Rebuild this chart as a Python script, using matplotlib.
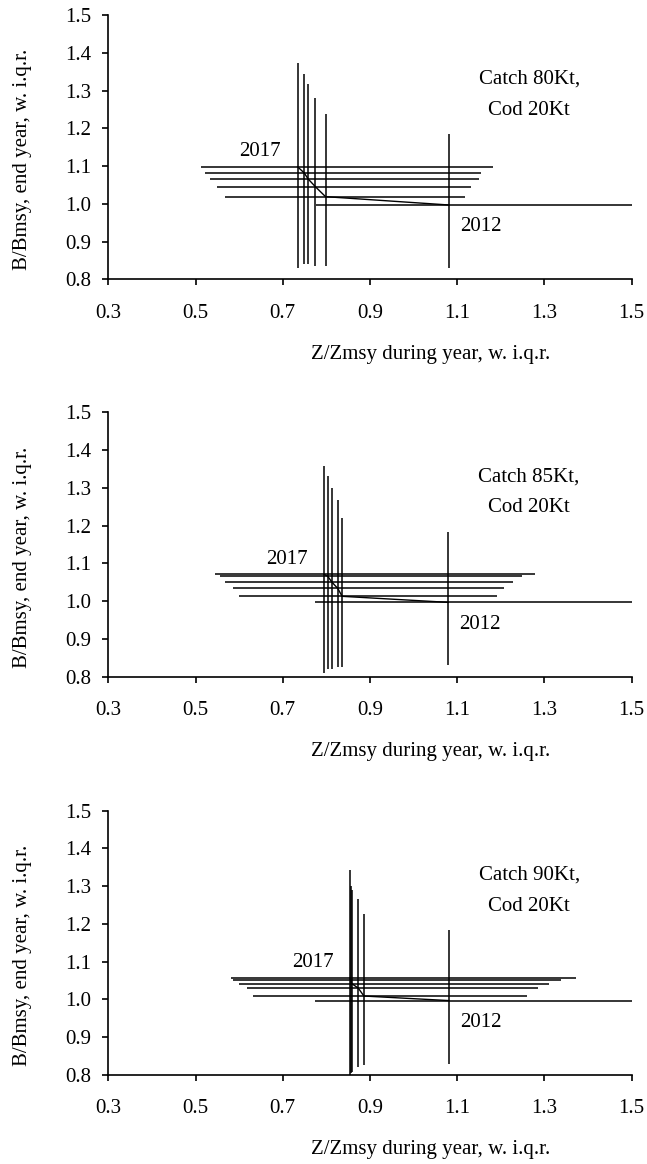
import numpy as np
import matplotlib
matplotlib.use("Agg")
import matplotlib.pyplot as plt
from matplotlib.ticker import FormatStrFormatter

plt.rcParams['font.family'] = ['Liberation Serif', 'DejaVu Serif']
plt.rcParams['font.size'] = 15

years = [2012, 2013, 2014, 2015, 2016, 2017]
catch_labels = ['Catch 80Kt,', 'Catch 85Kt,', 'Catch 90Kt,']
cod_label = 'Cod 20Kt'

# median Z/Zmsy and B/Bmsy per year, with inter-quartile ranges
# catch 80Kt
z_80 = [1.080, 0.798, 0.775, 0.758, 0.749, 0.734]
z_80_lo = [0.776, 0.568, 0.550, 0.532, 0.522, 0.513]
z_80_hi = [1.55, 1.118, 1.131, 1.150, 1.154, 1.181]
b_80 = [0.997, 1.019, 1.045, 1.066, 1.082, 1.098]
b_80_lo = [0.829, 0.835, 0.835, 0.841, 0.841, 0.829]
b_80_hi = [1.184, 1.237, 1.279, 1.317, 1.343, 1.374]

# catch 85Kt
z_85 = [1.079, 0.836, 0.826, 0.813, 0.803, 0.795]
z_85_lo = [0.774, 0.600, 0.587, 0.568, 0.555, 0.545]
z_85_hi = [1.55, 1.190, 1.208, 1.227, 1.248, 1.278]
b_85 = [0.997, 1.013, 1.034, 1.050, 1.066, 1.071]
b_85_lo = [0.831, 0.825, 0.825, 0.820, 0.820, 0.811]
b_85_hi = [1.184, 1.221, 1.269, 1.300, 1.332, 1.359]

# catch 90Kt
z_90 = [1.080, 0.886, 0.873, 0.858, 0.856, 0.854]
z_90_lo = [0.774, 0.632, 0.617, 0.600, 0.587, 0.581]
z_90_hi = [1.55, 1.259, 1.286, 1.310, 1.338, 1.373]
b_90 = [0.997, 1.009, 1.030, 1.042, 1.051, 1.057]
b_90_lo = [0.829, 0.826, 0.820, 0.808, 0.805, 0.801]
b_90_hi = [1.185, 1.227, 1.265, 1.291, 1.300, 1.344]

x_ticks = [0.3, 0.5, 0.7, 0.9, 1.1, 1.3, 1.5]
y_ticks = [0.8, 0.9, 1.0, 1.1, 1.2, 1.3, 1.4, 1.5]

panels = [
    (z_80, z_80_lo, z_80_hi, b_80, b_80_lo, b_80_hi),
    (z_85, z_85_lo, z_85_hi, b_85, b_85_lo, b_85_hi),
    (z_90, z_90_lo, z_90_hi, b_90, b_90_lo, b_90_hi),
]
bottoms = [0.7600, 0.4186, 0.0765]

fig = plt.figure(figsize=(6.47, 11.64), dpi=100)

for i, (z, zlo, zhi, b, blo, bhi) in enumerate(panels):
    ax = fig.add_axes([0.1674, bottoms[i], 0.809, 0.2271])
    z = np.array(z); b = np.array(b)
    xerr = [z - np.array(zlo), np.array(zhi) - z]
    yerr = [b - np.array(blo), np.array(bhi) - b]
    ax.errorbar(z, b, xerr=xerr, yerr=yerr, color='k', ecolor='k',
                lw=1.0, elinewidth=1.1, capsize=0)

    ax.set_xlim(0.3, 1.5)
    ax.set_ylim(0.8, 1.5)
    ax.set_xticks(x_ticks)
    ax.set_yticks(y_ticks)
    ax.xaxis.set_major_formatter(FormatStrFormatter('%.1f'))
    ax.yaxis.set_major_formatter(FormatStrFormatter('%.1f'))
    ax.spines['top'].set_visible(False)
    ax.spines['right'].set_visible(False)
    for s in ['left', 'bottom']:
        ax.spines[s].set_linewidth(1.2)
    ax.tick_params(axis='x', direction='out', length=4.5, width=1.2, pad=13)
    ax.tick_params(axis='y', direction='out', length=4.5, width=1.2, pad=8)

    # year labels at start and end of trajectory
    ax.annotate(str(years[-1]), (z[-1], b[-1]), xytext=(-27, 7.7),
                textcoords='offset points', ha='center', va='baseline')
    ax.annotate(str(years[0]), (z[0], b[0]), xytext=(23, -19),
                textcoords='offset points', ha='center', va='baseline')

    ax.text(0.804, 0.740, catch_labels[i], transform=ax.transAxes,
            ha='center', va='baseline')
    ax.text(0.804, 0.622, cod_label, transform=ax.transAxes,
            ha='center', va='baseline')

    ax.text(-0.1636, 0.453, 'B/Bmsy, end year, w. i.q.r.', rotation=90,
            transform=ax.transAxes, ha='center', va='center')
    ax.text(0.615, -0.300, 'Z/Zmsy during year, w. i.q.r.',
            transform=ax.transAxes, ha='center', va='baseline')

fig.savefig('out.png', dpi=100)
